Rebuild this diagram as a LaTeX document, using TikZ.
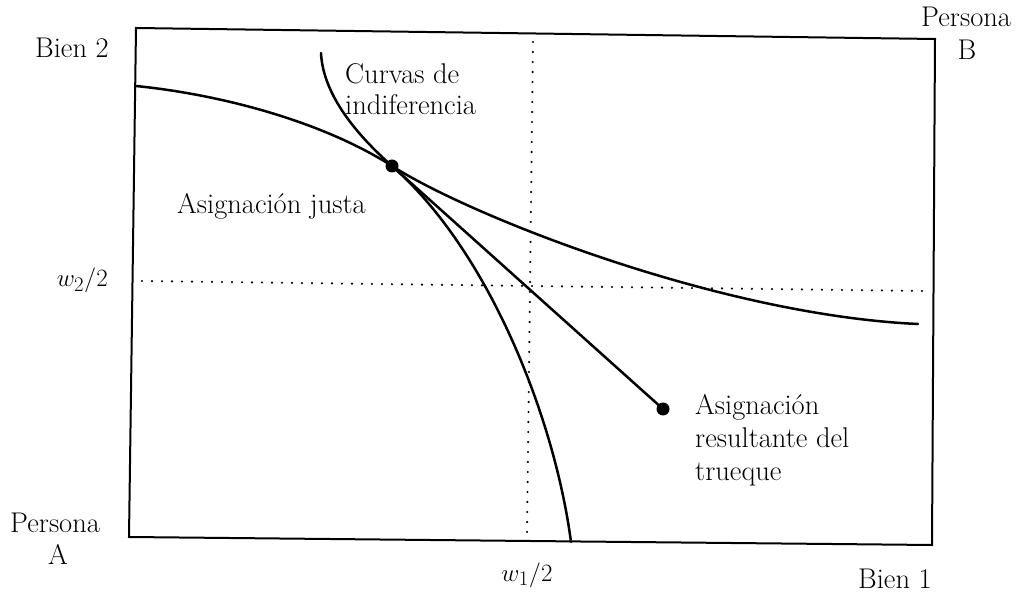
\documentclass[tikz,border=0pt]{standalone}
\begin{document}
\begin{tikzpicture}[x=1pt,y=-1pt,
  lbl/.style={inner sep=0pt, anchor=base west, font=\fontsize{28.5}{34}\selectfont},
  lblc/.style={lbl, anchor=base},
  lble/.style={lbl, anchor=base east},
  frame/.style={line width=2pt, line join=miter},
  curve/.style={line width=2.5pt, line join=round, line cap=round},
  dotline/.style={line width=2.4pt, line cap=round, dash pattern=on 0pt off 10pt},
  bigdot/.style={circle, fill=black, inner sep=0pt, minimum size=13pt}]
\useasboundingbox (0,0) rectangle (1021,593);
% frame
\coordinate (tl) at (136,28);
\coordinate (tr) at (935,39);
\coordinate (br) at (932,545);
\coordinate (bl) at (129,537);
\draw[frame] (tl) -- (tr) -- (br) -- (bl) -- cycle;
% dotted guide lines
\coordinate (vt) at (533,42);
\coordinate (vb) at (527,533);
\coordinate (hl) at (142,281);
\coordinate (hr) at (925,291);
\draw[dotline] (vt) -- (vb);
\draw[dotline] (hl) -- (hr);
% allocations
\node[bigdot] (fair) at (392,166) {};
\node[bigdot] (trade) at (663,409) {};
% indifference curves
\coordinate (flatL) at (136,86);
\coordinate (flatR) at (918,324);
\coordinate (steepT) at (321,53);
\coordinate (steepB) at (571,542);
\draw[curve] (flatL) .. controls (225,95) and (325,123) .. (fair.center)
  .. controls (470,216) and (720,315) .. (flatR);
\draw[curve] (steepT) .. controls (323,95) and (357,135) .. (fair.center)
  .. controls (490,252) and (555,420) .. (steepB);
\draw[curve] (fair.center) -- (trade.center);
% labels
\node[lbl] (bien2) at (35,58) {Bien 2};
\node[lbl] (persB) at (921,27) {Persona};
\node[lblc] (B) at (967,60) {B};
\node[lbl] (persA) at (10,533) {Persona};
\node[lblc] (A) at (58,565) {A};
\node[lble] (w2) at (108,287) {$w_2/2$};
\node[lblc] (w1) at (527,581) {$w_1/2$};
\node[lble] (bien1) at (932,588) {Bien 1};
\node[lbl] (curvas) at (345,84) {Curvas de};
\node[lbl] (indif) at (345,115) {indiferencia};
\node[lbl] (justa) at (177,214) {Asignación justa};
\node[lbl] (res1) at (695,415) {Asignación};
\node[lbl] (res2) at (695,448) {resultante del};
\node[lbl] (res3) at (695,481) {trueque};
\end{tikzpicture}
\end{document}
